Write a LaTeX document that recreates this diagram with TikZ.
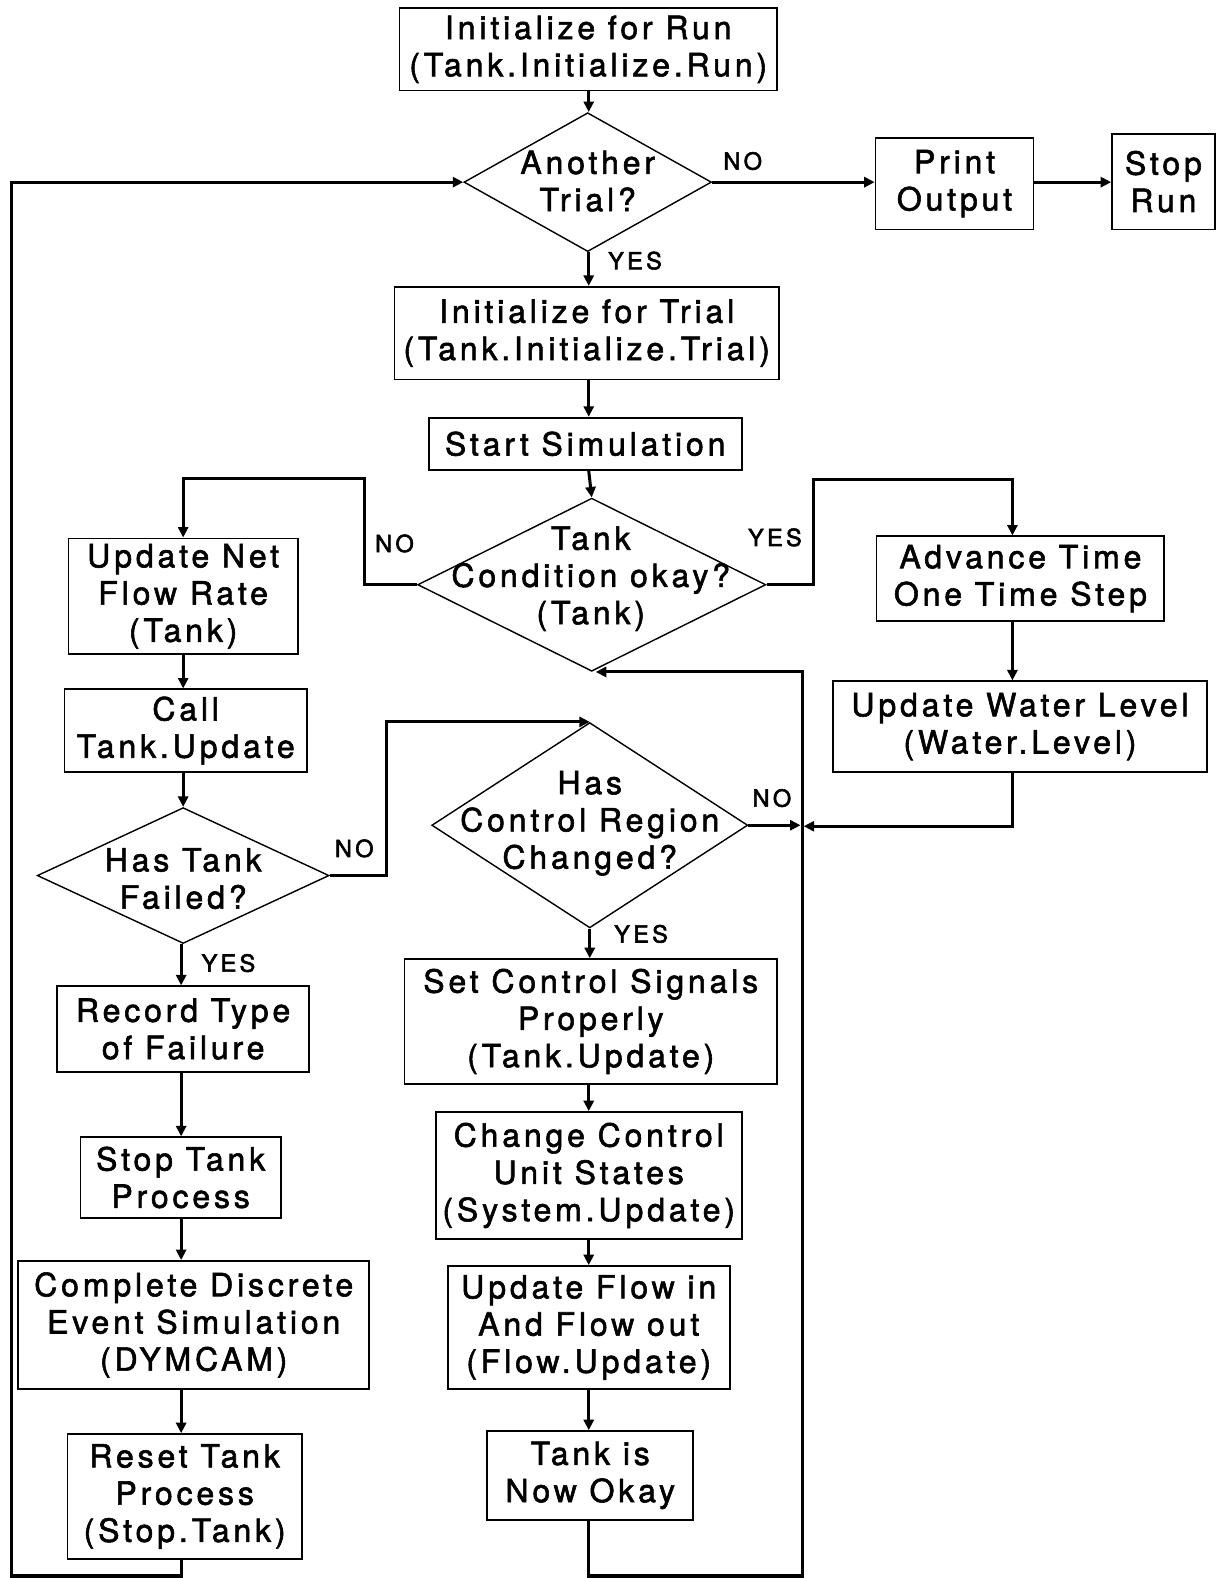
\documentclass[tikz,border=0pt]{standalone}
\usepackage{fontspec}
\setmainfont{TeX Gyre Heros}[FakeBold=1.8,LetterSpace=12]
\newfontfamily\lblfont{TeX Gyre Heros}[FakeBold=2.4,LetterSpace=14]
\usetikzlibrary{arrows.meta,shapes.geometric}
\newdimen\px \px=0.5pt
\begin{document}
\begin{tikzpicture}[x=0.5pt,y=-0.5pt,
  box/.style={draw,line width=0.9pt,inner sep=0pt,align=center,
    font=\fontsize{15.9}{18.5}\selectfont},
  sz/.style 2 args={minimum width=#1\px,minimum height=#2\px},
  dia/.style={draw,shape=diamond,line width=0.7pt,inner sep=0pt},
  qtext/.style={align=center,inner sep=0pt,font=\fontsize{15.9}{18.5}\selectfont},
  lbl/.style={inner sep=0pt,font=\lblfont\fontsize{11.7}{14}\selectfont},
  flow/.style={line width=1.5pt,-{Triangle[length=5.2pt,width=5pt]}},
]
\fill[white] (0,0) rectangle (1208,1568);
\useasboundingbox (0,0) rectangle (1208,1568);

% ---- process boxes ----
\node[box,sz={375}{82}]  (initrun)   at (584.5,49)    {Initialize for Run\\(Tank.Initialize.Run)};
\node[box,sz={157}{91}]  (printout)  at (948.5,182.5) {Print\\Output};
\node[box,sz={102}{95}]  (stoprun)   at (1156,180.5)  {Stop\\Run};
\node[box,sz={382}{92}]  (inittrial) at (583,331)     {Initialize for Trial\\(Tank.Initialize.Trial)};
\node[box,sz={311}{52}]  (startsim)  at (581.5,441)   {Start Simulation};
\node[box,sz={228}{115}] (netflow)   at (182,592.5)   {Update Net\\Flow Rate\\(Tank)};
\node[box,sz={286}{84}]  (advance)   at (1014,575)    {Advance Time\\One Time Step};
\node[box,sz={241}{82}]  (calltank)  at (184.5,726)   {Call\\Tank.Update};
\node[box,sz={371}{90}]  (water)     at (1013.5,722)  {Update Water Level\\(Water.Level)};
\node[box,sz={250}{85}]  (record)    at (182,1022.5)  {Record Type\\of Failure};
\node[box,sz={199}{80}]  (stoptank)  at (179.5,1170)  {Stop Tank\\Process};
\node[box,sz={349}{127}] (complete)  at (192.5,1316.5){Complete Discrete\\Event Simulation\\(DYMCAM)};
\node[box,sz={233}{124}] (reset)     at (183.5,1487)  {Reset Tank\\Process\\(Stop.Tank)};
\node[box,sz={370}{124}] (setctrl)   at (587,1015)    {Set Control Signals\\Properly\\(Tank.Update)};
\node[box,sz={304}{126}] (chgctrl)   at (585,1168)    {Change Control\\Unit States\\(System.Update)};
\node[box,sz={280}{122}] (updflow)   at (585,1319)    {Update Flow in\\And Flow out\\(Flow.Update)};
\node[box,sz={205}{88}]  (tankok)    at (586.5,1466)  {Tank is\\Now Okay};

% ---- decisions ----
\node[dia,sz={246}{138}] (trial)    at (584,181) {};
\node[dia,sz={346}{172}] (tankcond) at (588,581) {};
\node[dia,sz={290}{135}] (failed)   at (182,870) {};
\node[dia,sz={314}{204}] (control)  at (586,820) {};
\node[qtext] (trialq)    at (584,180) {Another\\Trial?};
\node[qtext] (tankcondq) at (587,575) {Tank\\Condition okay?\\(Tank)};
\node[qtext] (failedq)   at (182,873) {Has Tank\\Failed?};
\node[qtext] (controlq)  at (586,818) {Has\\Control Region\\Changed?};

% ---- branch labels ----
\node[lbl] (noA)  at (738,160) {NO};
\node[lbl] (yesA) at (631,259) {YES};
\node[lbl] (noB)  at (392,540) {NO};
\node[lbl] (yesB) at (770,534) {YES};
\node[lbl] (noC)  at (352,843) {NO};
\node[lbl] (yesC) at (227,957) {YES};
\node[lbl] (noD)  at (767,793) {NO};
\node[lbl] (yesD) at (637,928) {YES};

% ---- columns and bend points ----
\coordinate (lcol)  at (180,0);
\coordinate (mcol)  at (585,0);
\coordinate (rcol)  at (1006,0);
\coordinate (ljog)  at (362,475);
\coordinate (rjog)  at (808,476);
\coordinate (njog)  at (384,0);
\coordinate (merge) at (797,821);
\coordinate (loopR) at (797,1566);
\coordinate (loopL) at (11,1566);

% ---- connectors ----
\draw[flow] (mcol |- initrun.south) -- (mcol |- trial.north);
\draw[flow] (trial.east) -- (trial.east -| printout.west);
\draw[flow] (trial.east -| printout.east) -- (trial.east -| stoprun.west);
\draw[flow] (mcol |- trial.south) -- (mcol |- inittrial.north);
\draw[flow] (mcol |- inittrial.south) -- (mcol |- startsim.north);
\draw[flow] (mcol |- startsim.south) -- (tankcond.north);
\draw[flow] (tankcond.west) -| (ljog) -| (netflow.north);
\draw[flow] (tankcond.east) -| (rjog) -| (rcol |- advance.north);
\draw[flow] (rcol |- advance.south) -- (rcol |- water.north);
\draw[flow] (rcol |- water.south) |- ([xshift=0.8pt]merge);
\draw[flow] (control.east) -- ([xshift=-0.8pt]control.east -| merge);
\draw[flow] (mcol |- tankok.south) |- (loopR) |- ([xshift=2pt]tankcond.south);
\draw[flow] (netflow.south) -- (netflow.south |- calltank.north);
\draw[flow] (calltank.south -| failed.north) -- (failed.north);
\draw[flow] (failed.east) -| (njog |- control.north) -- (control.north);
\draw[flow] (lcol |- failed.south) -- (lcol |- record.north);
\draw[flow] (lcol |- record.south) -- (lcol |- stoptank.north);
\draw[flow] (lcol |- stoptank.south) -- (lcol |- complete.north);
\draw[flow] (lcol |- complete.south) -- (lcol |- reset.north);
\draw[flow] (lcol |- reset.south) |- (loopL) |- (trial.west);
\draw[flow] (control.south) -- (control.south |- setctrl.north);
\draw[flow] (mcol |- setctrl.south) -- (mcol |- chgctrl.north);
\draw[flow] (mcol |- chgctrl.south) -- (mcol |- updflow.north);
\draw[flow] (mcol |- updflow.south) -- (mcol |- tankok.north);
\end{tikzpicture}
\end{document}
